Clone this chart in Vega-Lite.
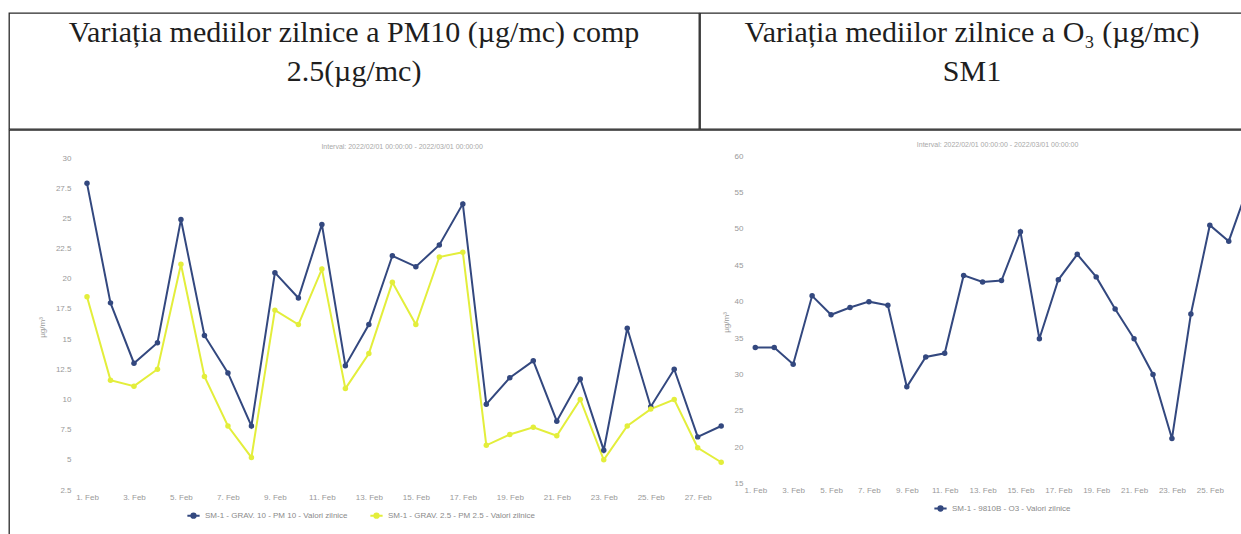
{
  "$schema": "https://vega.github.io/schema/vega-lite/v6.json",
  "background": "white",
  "padding": {"left": 8, "top": 12, "right": 0, "bottom": 0},
  "spacing": -1.3,
  "config": {
    "view": {"stroke": "#2a2a2a", "strokeWidth": 1.3},
    "font": "Liberation Sans",
    "axis": {"labelFont": "Liberation Sans", "labelColor": "#999999", "labelFontSize": 8, "titleFont": "Liberation Sans", "titleColor": "#999999", "titleFontSize": 8, "titleFontWeight": "normal", "domain": false, "ticks": false, "grid": false, "labelOverlap": false, "labelFlush": false},
    "legend": {"labelFont": "Liberation Sans", "labelFontSize": 8, "labelColor": "#8a8a8a", "symbolStrokeWidth": 2}
  },
  "datasets": {
    "hdrL": [
      {"line": 1, "text": "Variația mediilor zilnice a PM10 (µg/mc) comp"},
      {"line": 2, "text": "2.5(µg/mc)"}
    ],
    "hdrR": [
      {"line": 1, "text": "Variația mediilor zilnice a O₃ (µg/mc)"},
      {"line": 2, "text": "SM1"}
    ],
    "pm": [
      {"date": "2022-02-01", "series": "SM-1 - GRAV. 10 - PM 10 - Valori zilnice", "value": 27.9},
      {"date": "2022-02-02", "series": "SM-1 - GRAV. 10 - PM 10 - Valori zilnice", "value": 18.0},
      {"date": "2022-02-03", "series": "SM-1 - GRAV. 10 - PM 10 - Valori zilnice", "value": 13.0},
      {"date": "2022-02-04", "series": "SM-1 - GRAV. 10 - PM 10 - Valori zilnice", "value": 14.7},
      {"date": "2022-02-05", "series": "SM-1 - GRAV. 10 - PM 10 - Valori zilnice", "value": 24.9},
      {"date": "2022-02-06", "series": "SM-1 - GRAV. 10 - PM 10 - Valori zilnice", "value": 15.3},
      {"date": "2022-02-07", "series": "SM-1 - GRAV. 10 - PM 10 - Valori zilnice", "value": 12.2},
      {"date": "2022-02-08", "series": "SM-1 - GRAV. 10 - PM 10 - Valori zilnice", "value": 7.8},
      {"date": "2022-02-09", "series": "SM-1 - GRAV. 10 - PM 10 - Valori zilnice", "value": 20.5},
      {"date": "2022-02-10", "series": "SM-1 - GRAV. 10 - PM 10 - Valori zilnice", "value": 18.4},
      {"date": "2022-02-11", "series": "SM-1 - GRAV. 10 - PM 10 - Valori zilnice", "value": 24.5},
      {"date": "2022-02-12", "series": "SM-1 - GRAV. 10 - PM 10 - Valori zilnice", "value": 12.8},
      {"date": "2022-02-13", "series": "SM-1 - GRAV. 10 - PM 10 - Valori zilnice", "value": 16.2},
      {"date": "2022-02-14", "series": "SM-1 - GRAV. 10 - PM 10 - Valori zilnice", "value": 21.9},
      {"date": "2022-02-15", "series": "SM-1 - GRAV. 10 - PM 10 - Valori zilnice", "value": 21.0},
      {"date": "2022-02-16", "series": "SM-1 - GRAV. 10 - PM 10 - Valori zilnice", "value": 22.8},
      {"date": "2022-02-17", "series": "SM-1 - GRAV. 10 - PM 10 - Valori zilnice", "value": 26.2},
      {"date": "2022-02-18", "series": "SM-1 - GRAV. 10 - PM 10 - Valori zilnice", "value": 9.6},
      {"date": "2022-02-19", "series": "SM-1 - GRAV. 10 - PM 10 - Valori zilnice", "value": 11.8},
      {"date": "2022-02-20", "series": "SM-1 - GRAV. 10 - PM 10 - Valori zilnice", "value": 13.2},
      {"date": "2022-02-21", "series": "SM-1 - GRAV. 10 - PM 10 - Valori zilnice", "value": 8.2},
      {"date": "2022-02-22", "series": "SM-1 - GRAV. 10 - PM 10 - Valori zilnice", "value": 11.7},
      {"date": "2022-02-23", "series": "SM-1 - GRAV. 10 - PM 10 - Valori zilnice", "value": 5.8},
      {"date": "2022-02-24", "series": "SM-1 - GRAV. 10 - PM 10 - Valori zilnice", "value": 15.9},
      {"date": "2022-02-25", "series": "SM-1 - GRAV. 10 - PM 10 - Valori zilnice", "value": 9.4},
      {"date": "2022-02-26", "series": "SM-1 - GRAV. 10 - PM 10 - Valori zilnice", "value": 12.5},
      {"date": "2022-02-27", "series": "SM-1 - GRAV. 10 - PM 10 - Valori zilnice", "value": 6.9},
      {"date": "2022-02-28", "series": "SM-1 - GRAV. 10 - PM 10 - Valori zilnice", "value": 7.8},
      {"date": "2022-02-01", "series": "SM-1 - GRAV. 2.5 - PM 2.5 - Valori zilnice", "value": 18.5},
      {"date": "2022-02-02", "series": "SM-1 - GRAV. 2.5 - PM 2.5 - Valori zilnice", "value": 11.6},
      {"date": "2022-02-03", "series": "SM-1 - GRAV. 2.5 - PM 2.5 - Valori zilnice", "value": 11.1},
      {"date": "2022-02-04", "series": "SM-1 - GRAV. 2.5 - PM 2.5 - Valori zilnice", "value": 12.5},
      {"date": "2022-02-05", "series": "SM-1 - GRAV. 2.5 - PM 2.5 - Valori zilnice", "value": 21.2},
      {"date": "2022-02-06", "series": "SM-1 - GRAV. 2.5 - PM 2.5 - Valori zilnice", "value": 11.9},
      {"date": "2022-02-07", "series": "SM-1 - GRAV. 2.5 - PM 2.5 - Valori zilnice", "value": 7.8},
      {"date": "2022-02-08", "series": "SM-1 - GRAV. 2.5 - PM 2.5 - Valori zilnice", "value": 5.2},
      {"date": "2022-02-09", "series": "SM-1 - GRAV. 2.5 - PM 2.5 - Valori zilnice", "value": 17.4},
      {"date": "2022-02-10", "series": "SM-1 - GRAV. 2.5 - PM 2.5 - Valori zilnice", "value": 16.2},
      {"date": "2022-02-11", "series": "SM-1 - GRAV. 2.5 - PM 2.5 - Valori zilnice", "value": 20.8},
      {"date": "2022-02-12", "series": "SM-1 - GRAV. 2.5 - PM 2.5 - Valori zilnice", "value": 10.9},
      {"date": "2022-02-13", "series": "SM-1 - GRAV. 2.5 - PM 2.5 - Valori zilnice", "value": 13.8},
      {"date": "2022-02-14", "series": "SM-1 - GRAV. 2.5 - PM 2.5 - Valori zilnice", "value": 19.7},
      {"date": "2022-02-15", "series": "SM-1 - GRAV. 2.5 - PM 2.5 - Valori zilnice", "value": 16.2},
      {"date": "2022-02-16", "series": "SM-1 - GRAV. 2.5 - PM 2.5 - Valori zilnice", "value": 21.8},
      {"date": "2022-02-17", "series": "SM-1 - GRAV. 2.5 - PM 2.5 - Valori zilnice", "value": 22.2},
      {"date": "2022-02-18", "series": "SM-1 - GRAV. 2.5 - PM 2.5 - Valori zilnice", "value": 6.2},
      {"date": "2022-02-19", "series": "SM-1 - GRAV. 2.5 - PM 2.5 - Valori zilnice", "value": 7.1},
      {"date": "2022-02-20", "series": "SM-1 - GRAV. 2.5 - PM 2.5 - Valori zilnice", "value": 7.7},
      {"date": "2022-02-21", "series": "SM-1 - GRAV. 2.5 - PM 2.5 - Valori zilnice", "value": 7.0},
      {"date": "2022-02-22", "series": "SM-1 - GRAV. 2.5 - PM 2.5 - Valori zilnice", "value": 10.0},
      {"date": "2022-02-23", "series": "SM-1 - GRAV. 2.5 - PM 2.5 - Valori zilnice", "value": 5.0},
      {"date": "2022-02-24", "series": "SM-1 - GRAV. 2.5 - PM 2.5 - Valori zilnice", "value": 7.8},
      {"date": "2022-02-25", "series": "SM-1 - GRAV. 2.5 - PM 2.5 - Valori zilnice", "value": 9.2},
      {"date": "2022-02-26", "series": "SM-1 - GRAV. 2.5 - PM 2.5 - Valori zilnice", "value": 10.0},
      {"date": "2022-02-27", "series": "SM-1 - GRAV. 2.5 - PM 2.5 - Valori zilnice", "value": 6.0},
      {"date": "2022-02-28", "series": "SM-1 - GRAV. 2.5 - PM 2.5 - Valori zilnice", "value": 4.8}
    ],
    "o3": [
      {"date": "2022-02-01", "series": "SM-1 - 9810B - O3 - Valori zilnice", "value": 33.7},
      {"date": "2022-02-02", "series": "SM-1 - 9810B - O3 - Valori zilnice", "value": 33.7},
      {"date": "2022-02-03", "series": "SM-1 - 9810B - O3 - Valori zilnice", "value": 31.4},
      {"date": "2022-02-04", "series": "SM-1 - 9810B - O3 - Valori zilnice", "value": 40.8},
      {"date": "2022-02-05", "series": "SM-1 - 9810B - O3 - Valori zilnice", "value": 38.2},
      {"date": "2022-02-06", "series": "SM-1 - 9810B - O3 - Valori zilnice", "value": 39.2},
      {"date": "2022-02-07", "series": "SM-1 - 9810B - O3 - Valori zilnice", "value": 40.0},
      {"date": "2022-02-08", "series": "SM-1 - 9810B - O3 - Valori zilnice", "value": 39.5},
      {"date": "2022-02-09", "series": "SM-1 - 9810B - O3 - Valori zilnice", "value": 28.3},
      {"date": "2022-02-10", "series": "SM-1 - 9810B - O3 - Valori zilnice", "value": 32.4},
      {"date": "2022-02-11", "series": "SM-1 - 9810B - O3 - Valori zilnice", "value": 32.9},
      {"date": "2022-02-12", "series": "SM-1 - 9810B - O3 - Valori zilnice", "value": 43.6},
      {"date": "2022-02-13", "series": "SM-1 - 9810B - O3 - Valori zilnice", "value": 42.7},
      {"date": "2022-02-14", "series": "SM-1 - 9810B - O3 - Valori zilnice", "value": 42.9},
      {"date": "2022-02-15", "series": "SM-1 - 9810B - O3 - Valori zilnice", "value": 49.6},
      {"date": "2022-02-16", "series": "SM-1 - 9810B - O3 - Valori zilnice", "value": 34.9},
      {"date": "2022-02-17", "series": "SM-1 - 9810B - O3 - Valori zilnice", "value": 43.0},
      {"date": "2022-02-18", "series": "SM-1 - 9810B - O3 - Valori zilnice", "value": 46.5},
      {"date": "2022-02-19", "series": "SM-1 - 9810B - O3 - Valori zilnice", "value": 43.4},
      {"date": "2022-02-20", "series": "SM-1 - 9810B - O3 - Valori zilnice", "value": 39.0},
      {"date": "2022-02-21", "series": "SM-1 - 9810B - O3 - Valori zilnice", "value": 34.9},
      {"date": "2022-02-22", "series": "SM-1 - 9810B - O3 - Valori zilnice", "value": 30.0},
      {"date": "2022-02-23", "series": "SM-1 - 9810B - O3 - Valori zilnice", "value": 21.2},
      {"date": "2022-02-24", "series": "SM-1 - 9810B - O3 - Valori zilnice", "value": 38.3},
      {"date": "2022-02-25", "series": "SM-1 - 9810B - O3 - Valori zilnice", "value": 50.5},
      {"date": "2022-02-26", "series": "SM-1 - 9810B - O3 - Valori zilnice", "value": 48.3},
      {"date": "2022-02-27", "series": "SM-1 - 9810B - O3 - Valori zilnice", "value": 55.6}
    ]
  },
  "vconcat": [
    {
      "hconcat": [
        {
          "width": 690,
          "height": 116,
          "data": {"name": "hdrL"},
          "mark": {"type": "text", "font": "Liberation Serif", "fontSize": 30, "color": "#1e1e1e", "baseline": "middle"},
          "encoding": {
            "y": {"field": "line", "type": "ordinal", "scale": {"type": "point", "range": [20, 59], "padding": 0}, "axis": null},
            "text": {"field": "text"}
          }
        },
        {
          "width": 544,
          "height": 116,
          "data": {"name": "hdrR"},
          "mark": {"type": "text", "font": "Liberation Serif", "fontSize": 30, "color": "#1e1e1e", "baseline": "middle"},
          "encoding": {
            "y": {"field": "line", "type": "ordinal", "scale": {"type": "point", "range": [20, 59], "padding": 0}, "axis": null},
            "text": {"field": "text"}
          }
        }
      ],
      "spacing": -1.3
    },
    {
      "width": 1234,
      "height": 407,
      "layer": [
        {
          "layer": [
            {
              "data": {"name": "pm"},
              "mark": {"type": "line", "strokeWidth": 2, "point": {"filled": true, "size": 30}},
              "encoding": {
                "x": {
                  "field": "date", "type": "temporal",
                  "scale": {"type": "utc", "domain": [{"year": 2022, "month": 2, "date": 1, "utc": true}, {"year": 2022, "month": 2, "date": 28, "utc": true}], "range": [78, 712.2]},
                  "axis": {"orient": "bottom", "offset": -47, "title": null, "format": "%-d. %b", "tickCount": {"interval": "day", "step": 2}, "labelPadding": 3, "labelOverlap": false}
                },
                "y": {
                  "field": "value", "type": "quantitative",
                  "scale": {"domain": [2.5, 30], "range": [360, 28], "nice": false, "zero": false},
                  "axis": {"orient": "left", "offset": -66, "values": [2.5, 5, 7.5, 10, 12.5, 15, 17.5, 20, 22.5, 25, 27.5, 30], "tickCount": 30, "labelExpr": "format(datum.value, '.1~f')", "labelOverlap": false, "labelPadding": 4, "title": "µg/m³", "titleX": -33, "titleY": 197, "titleBaseline": "middle"}
                },
                "color": {
                  "field": "series", "type": "nominal",
                  "scale": {"domain": ["SM-1 - GRAV. 10 - PM 10 - Valori zilnice", "SM-1 - GRAV. 2.5 - PM 2.5 - Valori zilnice"], "range": ["#33487f", "#e3ee3b"]},
                  "legend": {"orient": "none", "legendX": 177, "legendY": 378, "direction": "horizontal", "title": null, "columnPadding": 18, "symbolType": "M-1,0L1,0M-0.35,0A0.35,0.35,0,1,1,0.35,0A0.35,0.35,0,1,1,-0.35,0", "symbolSize": 150}
                }
              }
            },
            {
              "data": {"values": [{"t": "Interval: 2022/02/01 00:00:00 - 2022/03/01 00:00:00"}]},
              "mark": {"type": "text", "fontSize": 7, "color": "#a8a8a8", "font": "Liberation Sans"},
              "encoding": {
                "x": {"datum": {"year": 2022, "month": 2, "date": 14, "hours": 10, "utc": true}, "type": "temporal"},
                "y": {"datum": 30.9, "type": "quantitative"},
                "text": {"field": "t"}
              }
            }
          ]
        },
        {
          "layer": [
            {
              "data": {"name": "o3"},
              "mark": {"type": "line", "strokeWidth": 2, "clip": true, "point": {"filled": true, "size": 30, "clip": true}},
              "encoding": {
                "x": {
                  "field": "date", "type": "temporal",
                  "scale": {"type": "utc", "domain": [{"year": 2022, "month": 2, "date": 1, "utc": true}, {"year": 2022, "month": 2, "date": 27, "utc": true}], "range": [746.3, 1238.7]},
                  "axis": {"orient": "bottom", "offset": -53.3, "title": null, "format": "%-d. %b", "labelPadding": 3, "labelOverlap": false, "tickCount": 30,
                    "values": [
                      {"year": 2022, "month": 2, "date": 1, "utc": true},
                      {"year": 2022, "month": 2, "date": 3, "utc": true},
                      {"year": 2022, "month": 2, "date": 5, "utc": true},
                      {"year": 2022, "month": 2, "date": 7, "utc": true},
                      {"year": 2022, "month": 2, "date": 9, "utc": true},
                      {"year": 2022, "month": 2, "date": 11, "utc": true},
                      {"year": 2022, "month": 2, "date": 13, "utc": true},
                      {"year": 2022, "month": 2, "date": 15, "utc": true},
                      {"year": 2022, "month": 2, "date": 17, "utc": true},
                      {"year": 2022, "month": 2, "date": 19, "utc": true},
                      {"year": 2022, "month": 2, "date": 21, "utc": true},
                      {"year": 2022, "month": 2, "date": 23, "utc": true},
                      {"year": 2022, "month": 2, "date": 25, "utc": true}
                    ]}
                },
                "y": {
                  "field": "value", "type": "quantitative",
                  "scale": {"domain": [15, 60], "range": [353.7, 26], "nice": false, "zero": false},
                  "axis": {"orient": "left", "offset": -738, "values": [15, 20, 25, 30, 35, 40, 45, 50, 55, 60], "tickCount": 30, "format": "d", "labelOverlap": false, "labelPadding": 4, "title": "µg/m³", "titleX": -21, "titleY": 192, "titleBaseline": "middle"}
                },
                "color": {
                  "field": "series", "type": "nominal",
                  "scale": {"range": ["#33487f"]},
                  "legend": {"orient": "none", "legendX": 924, "legendY": 371, "direction": "horizontal", "title": null, "symbolType": "M-1,0L1,0M-0.35,0A0.35,0.35,0,1,1,0.35,0A0.35,0.35,0,1,1,-0.35,0", "symbolSize": 150}
                }
              }
            },
            {
              "data": {"values": [{"t": "Interval: 2022/02/01 00:00:00 - 2022/03/01 00:00:00"}]},
              "mark": {"type": "text", "fontSize": 7, "color": "#a8a8a8", "font": "Liberation Sans"},
              "encoding": {
                "x": {"datum": {"year": 2022, "month": 2, "date": 13, "hours": 19, "utc": true}, "type": "temporal"},
                "y": {"datum": 61.5, "type": "quantitative"},
                "text": {"field": "t"}
              }
            }
          ]
        }
      ],
      "resolve": {
        "scale": {"x": "independent", "y": "independent", "color": "independent"},
        "axis": {"x": "independent", "y": "independent"},
        "legend": {"color": "independent"}
      }
    }
  ]
}
